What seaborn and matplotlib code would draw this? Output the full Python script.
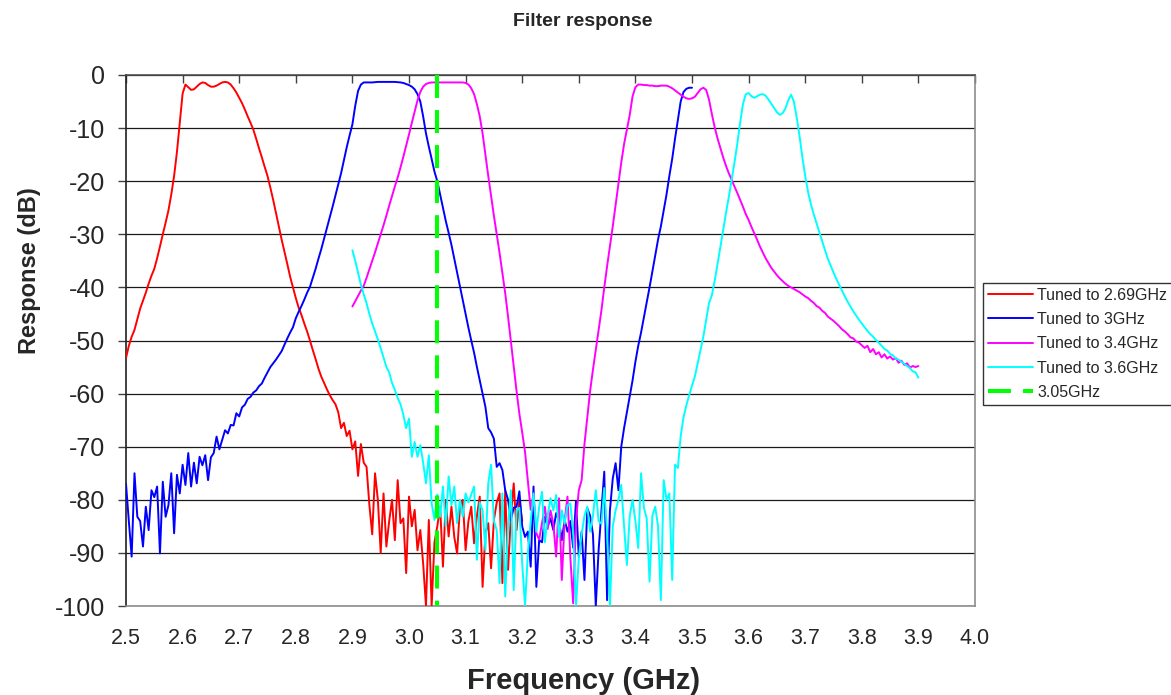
import numpy as np
import pandas as pd
import matplotlib
matplotlib.use('Agg')
import matplotlib.pyplot as plt
from matplotlib.ticker import FormatStrFormatter, MultipleLocator
import seaborn as sns

# ---- data (dB, 5 MHz sweep step) ----
step = 0.005

red_start = 2.5
red_db = [
    -53.3, -51.0, -49.3, -48.0, -46.0, -44.0, -42.5, -41.0, -39.3, -37.8,
    -36.5, -34.5, -32.3, -30.0, -27.8, -25.5, -22.5, -19.0, -14.5, -9.0,
    -3.5, -1.8, -2.3, -2.8, -2.7, -2.2, -1.7, -1.4, -1.5, -1.9,
    -2.2, -2.2, -2.0, -1.7, -1.4, -1.3, -1.4, -1.8, -2.5, -3.3,
    -4.3, -5.3, -6.5, -7.8, -9.0, -10.3, -12.0, -13.8, -15.5, -17.3,
    -19.0, -21.2, -23.5, -26.0, -28.5, -31.0, -33.3, -35.6, -38.0, -40.0,
    -42.0, -43.8, -45.2, -46.8, -48.3, -50.0, -51.8, -53.5, -55.3, -56.8,
    -58.0, -59.2, -60.3, -61.2, -62.0, -63.5, -66.5, -65.5, -68.0, -67.0,
    -70.5, -69.0, -75.5, -69.5, -73.0, -73.8, -81.0, -86.5, -75.0, -80.0,
    -90.0, -78.8, -88.8, -84.0, -80.0, -87.6, -76.3, -84.4, -83.5, -93.8,
    -79.4, -85.0, -81.9, -89.5, -85.7, -92.0, -100.0, -83.8, -100.0, -88.0,
    -85.0, -81.3, -92.6, -80.0, -86.9, -81.3, -87.0, -90.1, -81.3, -80.0,
    -89.5, -84.0, -81.3, -88.2, -83.0, -79.4, -96.4, -86.3, -84.4, -92.9,
    -83.8, -80.5, -78.8, -95.7, -78.2, -93.2, -83.2, -76.9, -85.7, -80.0,
    -84.0,
]

blue_start = 2.5
blue_db = [
    -77.0, -84.0, -90.7, -75.0, -83.2, -84.0, -88.8, -81.3, -85.7, -78.2,
    -79.5, -77.5, -90.1, -76.6, -83.2, -81.0, -75.0, -86.3, -75.3, -78.8,
    -73.4, -77.2, -71.2, -77.5, -73.0, -76.9, -71.9, -73.5, -71.6, -76.3,
    -72.0, -71.2, -68.1, -70.5, -68.7, -66.9, -67.5, -65.9, -66.0, -63.7,
    -64.3, -62.6, -62.1, -61.0, -60.6, -59.8, -59.4, -58.6, -58.1, -57.0,
    -56.0, -55.0, -54.3, -53.6, -52.8, -52.0, -50.8, -49.6, -48.5, -47.5,
    -45.8, -44.6, -43.5, -42.3, -41.0, -39.9, -38.2, -36.5, -34.6, -32.8,
    -30.8, -28.8, -26.8, -24.8, -22.7, -20.6, -18.5, -16.0, -13.6, -11.4,
    -9.3, -5.8, -3.0, -1.8, -1.4, -1.4, -1.4, -1.4, -1.35, -1.3,
    -1.3, -1.3, -1.3, -1.3, -1.3, -1.3, -1.35, -1.4, -1.5, -1.7,
    -1.9, -2.2, -2.7, -3.6, -5.0, -7.8, -11.0, -13.5, -15.8, -18.2,
    -20.0, -22.5, -25.0, -27.5, -29.7, -32.0, -34.6, -37.2, -39.8, -42.5,
    -45.0, -47.6, -50.0, -52.3, -55.0, -57.5, -60.0, -62.5, -66.5, -67.3,
    -68.5, -73.8, -73.1, -74.4, -78.2, -80.0, -83.8, -81.5, -81.3, -78.4,
    -85.0, -87.0, -86.0, -92.6, -77.5, -96.4, -87.6, -88.0, -83.2, -85.0,
    -83.5, -85.7, -82.5, -84.0, -87.6, -83.8, -86.0, -84.0, -89.0, -80.3,
    -90.7, -86.0, -95.1, -81.6, -83.0, -86.5, -100.0, -89.5, -82.0, -74.7,
    -98.9, -82.0, -76.0, -73.1, -78.2, -70.0, -66.5, -63.5, -60.5, -57.5,
    -54.0, -51.0, -48.5, -45.6, -42.8, -40.0, -37.0, -34.0, -31.0, -28.5,
    -25.5, -22.5, -19.0, -15.8, -12.0, -8.5, -5.0, -3.2, -2.6, -2.4,
    -2.4,
]

magenta_start = 2.9
magenta_db = [
    -43.6, -42.6, -41.6, -40.6, -39.7, -38.2, -36.6, -35.0, -33.4, -31.7,
    -30.0, -28.3, -26.5, -24.6, -22.8, -21.0, -19.3, -17.4, -15.4, -13.3,
    -11.2, -9.0, -6.9, -4.8, -3.2, -2.2, -1.7, -1.5, -1.4, -1.4,
    -1.4, -1.4, -1.4, -1.4, -1.4, -1.4, -1.4, -1.4, -1.4, -1.4,
    -1.5, -1.8, -2.5, -3.6, -5.5, -7.8, -11.0, -15.0, -19.0, -22.8,
    -26.5, -30.0, -33.5, -37.3, -41.1, -45.5, -50.2, -54.8, -59.5, -63.8,
    -67.3, -71.0, -76.5, -81.9, -78.8, -86.3, -87.5, -84.4, -81.3, -85.5,
    -82.0, -84.5, -90.7, -79.7, -95.1, -84.0, -79.4, -90.7, -99.5, -84.0,
    -78.2, -76.3, -69.5, -64.5, -59.5, -55.5, -51.8, -48.0, -44.3, -40.0,
    -36.0, -32.3, -28.5, -24.5, -20.5, -16.5, -13.0, -10.3, -7.5, -4.0,
    -2.3, -1.8, -1.8, -1.9, -1.9, -2.0, -2.0, -2.1, -2.1, -2.0,
    -2.0, -2.0, -2.2, -2.5, -2.9, -3.3, -3.7, -4.1, -4.4, -4.5,
    -4.4, -4.1, -3.4, -2.7, -2.4, -2.8, -4.6, -7.3, -9.8, -11.9,
    -13.7, -15.5, -17.1, -18.5, -19.7, -21.0, -22.2, -23.5, -24.8, -26.2,
    -27.3, -28.6, -29.8, -31.0, -32.3, -33.4, -34.5, -35.4, -36.3, -37.0,
    -37.7, -38.3, -38.8, -39.3, -39.7, -40.0, -40.3, -40.6, -40.9, -41.3,
    -41.7, -42.0, -42.5, -42.9, -43.5, -43.8, -44.4, -44.8, -45.5, -45.9,
    -46.3, -46.8, -47.3, -47.9, -48.3, -48.8, -49.4, -49.6, -50.2, -50.4,
    -50.9, -51.4, -51.0, -52.2, -51.6, -52.6, -52.2, -53.2, -52.6, -53.4,
    -53.0, -53.6, -53.3, -54.2, -53.8, -54.6, -54.3, -55.1, -54.8, -55.0,
    -54.8,
]

cyan_start = 2.9
cyan_db = [
    -33.0, -35.0, -37.2, -39.5, -41.3, -43.0, -45.0, -46.8, -48.3, -49.8,
    -51.5, -53.2, -55.0, -56.0, -58.0, -59.3, -60.8, -62.0, -64.0, -66.5,
    -64.7, -71.9, -69.1, -71.9, -69.7, -73.0, -76.9, -71.6, -80.7, -83.8,
    -79.0, -83.2, -77.5, -85.0, -75.6, -81.0, -77.5, -84.4, -80.0, -83.2,
    -78.8, -80.5, -79.0, -77.5, -91.3, -80.5, -82.0, -89.5, -76.9, -73.4,
    -84.0, -85.7, -95.7, -78.8, -98.2, -85.0, -78.2, -97.0, -82.0, -81.5,
    -92.0, -100.0, -90.0, -84.0, -78.8, -86.0, -81.3, -78.5, -88.0, -83.0,
    -79.7, -82.0, -79.1, -87.0, -82.0, -84.5, -81.0, -80.7, -86.0, -100.0,
    -91.0, -86.5, -83.0, -81.3, -86.0, -83.0, -78.2, -84.0, -84.5, -77.8,
    -86.0, -100.0, -85.0, -82.0, -80.0, -77.2, -85.0, -92.3, -83.0, -80.0,
    -84.0, -89.1, -75.0, -81.5, -83.5, -95.4, -83.0, -81.3, -85.0, -98.9,
    -76.3, -80.0, -78.8, -95.1, -73.4, -74.0, -68.0, -64.5, -62.2, -60.3,
    -58.5, -56.8, -54.3, -51.8, -49.3, -46.2, -43.0, -41.5, -38.8, -35.7,
    -32.5, -29.2, -26.0, -23.0, -19.8, -16.5, -13.0, -9.0, -5.5, -3.6,
    -3.4, -4.0, -4.3, -4.0, -3.7, -3.6, -3.9, -4.6, -5.4, -6.2,
    -7.0, -7.5, -7.2, -6.3, -4.8, -3.7, -5.0, -8.0, -11.5, -15.5,
    -19.0, -22.0, -24.3, -26.2, -27.9, -29.6, -31.3, -33.0, -34.6, -35.9,
    -37.2, -38.4, -39.5, -40.6, -41.7, -42.7, -43.6, -44.5, -45.3, -46.1,
    -46.8, -47.5, -48.2, -48.8, -49.3, -49.9, -50.4, -51.0, -51.6, -51.9,
    -52.5, -52.8, -53.4, -53.6, -54.0, -54.4, -54.8, -55.2, -55.8, -56.0,
    -57.0,
]

marker_freq = 3.05
marker_db = [0, -100]

labels = ['Tuned to 2.69GHz', 'Tuned to 3GHz', 'Tuned to 3.4GHz', 'Tuned to 3.6GHz']
colors = ['#FF0000', '#0000FF', '#FF00FF', '#00FFFF']
starts = [red_start, blue_start, magenta_start, cyan_start]
series = [red_db, blue_db, magenta_db, cyan_db]


def sweep(start, values):
    return np.round(start + step * np.arange(len(values)), 4)


# ---- style ----
sns.set_style('white')
plt.rcParams['font.family'] = ['Liberation Sans', 'DejaVu Sans']
plt.rcParams['axes.unicode_minus'] = False

fig = plt.figure(figsize=(11.71, 6.95), dpi=100)
ax = fig.add_axes([126 / 1171, 1 - 606 / 695, 849 / 1171, 531 / 695])

for lab, col, st, vals in zip(labels, colors, starts, series):
    df = pd.DataFrame({'freq': sweep(st, vals), 'db': vals})
    sns.lineplot(data=df, x='freq', y='db', color=col, linewidth=1.4,
                 estimator=None, sort=False, label=lab, ax=ax, zorder=3)

sns.lineplot(x=[marker_freq, marker_freq], y=marker_db, color='#00FF00',
             linewidth=2.9, dashes=False, estimator=None, sort=False,
             label='3.05GHz', ax=ax, zorder=4)
ax.get_lines()[-1].set_dashes((5.7, 3.0))

ax.set_xlim(2.5, 4.0)
ax.set_ylim(-100, 0)
ax.xaxis.set_major_locator(MultipleLocator(0.1))
ax.xaxis.set_major_formatter(FormatStrFormatter('%.1f'))
ax.yaxis.set_major_locator(MultipleLocator(10))
ax.yaxis.set_major_formatter(FormatStrFormatter('%d'))

ax.grid(axis='y', color='#1a1a1a', linewidth=0.9, zorder=0)
ax.grid(axis='x', visible=False)
ax.set_axisbelow(True)

ax.tick_params(axis='x', which='major', top=True, bottom=False,
               labeltop=False, labelbottom=True, direction='in',
               length=6, width=1, color='#404040', pad=16, labelsize=15.5)
ax.tick_params(axis='y', which='major', left=True, right=False,
               direction='out', length=6, width=1, color='#404040',
               pad=9, labelsize=18)

ax.spines['top'].set_color('#505050')
for side in ['right', 'bottom']:
    ax.spines[side].set_color('#8c8c8c')
for side in ['top', 'right', 'bottom', 'left']:
    ax.spines[side].set_linewidth(1.2)
ax.spines['left'].set_color('#202020')

ax.set_xlabel('Frequency (GHz)', fontsize=21, fontweight='bold')
ax.xaxis.label.set_va('center')
ax.xaxis.set_label_coords(0.539, (606 - 681) / 531)
ax.set_ylabel('Response (dB)', fontsize=17, fontweight='bold')
ax.yaxis.set_label_coords((41 - 126) / 849, (606 - 271) / 531)

fig.text(583 / 1171, 1 - 22 / 695, 'Filter response', fontsize=14,
         fontweight='bold', ha='center', va='center')

leg = ax.legend(loc='upper left', bbox_to_anchor=(983 / 1171, 1 - 283 / 695),
                bbox_transform=fig.transFigure, borderaxespad=0,
                frameon=True, fancybox=False, edgecolor='black',
                fontsize=11.5, handlelength=2.85, handletextpad=0.25,
                labelspacing=0.58, borderpad=0.3)
leg.get_frame().set_linewidth(1.0)

fig.savefig('out.png', dpi=100)
